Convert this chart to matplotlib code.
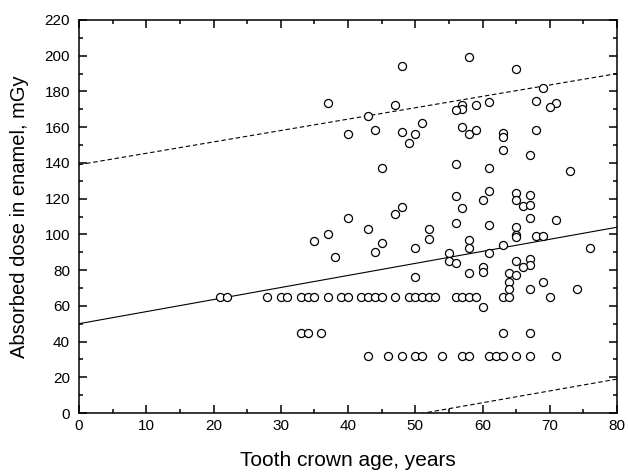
import numpy as np
import matplotlib
matplotlib.use("Agg")
import matplotlib.pyplot as plt
from matplotlib.ticker import MultipleLocator

plt.rcParams['font.family'] = ['Liberation Sans', 'DejaVu Sans']

# upper scatter group
age_top = [58, 48, 65, 69, 37, 47, 68, 71, 70, 61, 59, 57, 57, 56, 43, 51, 44, 48, 50, 40,
           49, 57, 58, 59, 63, 63, 68, 63, 67, 45, 56, 61, 73]
dose_top = [199.5, 194.3, 192.4, 182.2, 173.4, 172.3, 174.4, 173.3, 171.5, 174.3, 172.3, 172.3,
            170, 169.5, 166.3, 162.3, 158.5, 157.3, 156, 156, 151.2, 160.3, 156.1, 158.5,
            156.5, 154.3, 158.5, 147.5, 144.3, 137.4, 139.2, 137.4, 135.2]

# middle group
age_mid = [56, 61, 65, 67, 60, 65, 66, 67, 57, 48, 47, 40, 67, 71, 56, 61, 65, 43, 52, 37,
           65, 65, 68, 69, 52, 58, 35, 45, 63, 50, 58, 76, 44, 55, 61, 38, 67, 65, 55, 56,
           67, 66, 60, 60, 58, 64, 65, 50, 64, 69, 64, 67, 74, 60]
dose_mid = [121.5, 124.2, 123.4, 122.2, 119.4, 119.4, 115.8, 116.3, 115, 115.3, 111.2, 109.2,
            109.1, 108, 106.2, 105.2, 104.2, 103.2, 103.2, 100.2, 99.6, 98.4, 99.2, 99.2,
            97.2, 97, 96.1, 95.2, 94.2, 92.1, 92.2, 92.2, 90.3, 89.3, 89.3, 87.2, 86.1, 85.2,
            84.9, 84, 83.1, 81.9, 81.5, 79.1, 78.2, 78.2, 77.2, 76.1, 73.2, 73.2, 69.4, 69.3,
            69.3, 59.2]

# rows of equal dose
age_65 = [21, 22, 28, 30, 31, 33, 34, 35, 37, 39, 40, 42, 43, 44, 45, 47, 49, 50, 51, 52,
          53, 56, 57, 58, 59, 63, 64, 70]
age_45 = [33, 34, 36, 63, 67]
age_32 = [43, 46, 48, 50, 51, 54, 57, 58, 61, 62, 63, 65, 67, 71]

ages = age_top + age_mid + age_65 + age_45 + age_32
doses = dose_top + dose_mid + [65] * len(age_65) + [45] * len(age_45) + [32] * len(age_32)

# regression line and prediction band (end points)
line_x = [0, 80]
fit_y = [50, 104]
upper_y = [139, 190]
lower_y = [-34, 19]

fig = plt.figure(figsize=(6.28, 4.75), dpi=100)
ax = fig.add_axes([0.1258, 0.1305, 0.8567, 0.8274])

ax.plot(line_x, fit_y, color='black', lw=0.8)
ax.plot(line_x, upper_y, color='black', lw=0.8, dashes=(4, 2.5))
ax.plot(line_x, lower_y, color='black', lw=0.8, dashes=(4, 2.5))
ax.plot(ages, doses, linestyle='none', marker='o', ms=5.8, mfc='white', mec='black', mew=0.9)

ax.set_xlim(0, 80)
ax.set_ylim(0, 220)
ax.xaxis.set_major_locator(MultipleLocator(10))
ax.xaxis.set_minor_locator(MultipleLocator(5))
ax.yaxis.set_major_locator(MultipleLocator(20))
ax.yaxis.set_minor_locator(MultipleLocator(10))
ax.tick_params(which='both', direction='in', top=True, right=True, width=1.1, labelsize=11)
ax.tick_params(which='major', length=5.5)
ax.tick_params(which='minor', length=3)
ax.tick_params(axis='x', which='major', pad=4)
ax.tick_params(axis='y', which='major', pad=6.5)
for s in ax.spines.values():
    s.set_linewidth(1.1)

ax.set_xlabel('Tooth crown age, years', fontsize=15)
ax.set_ylabel('Absorbed dose in enamel, mGy', fontsize=14.5)
ax.xaxis.set_label_coords(0.5, -0.097)
ax.yaxis.set_label_coords(-0.093, 0.5)

fig.savefig('out.png', dpi=100)
